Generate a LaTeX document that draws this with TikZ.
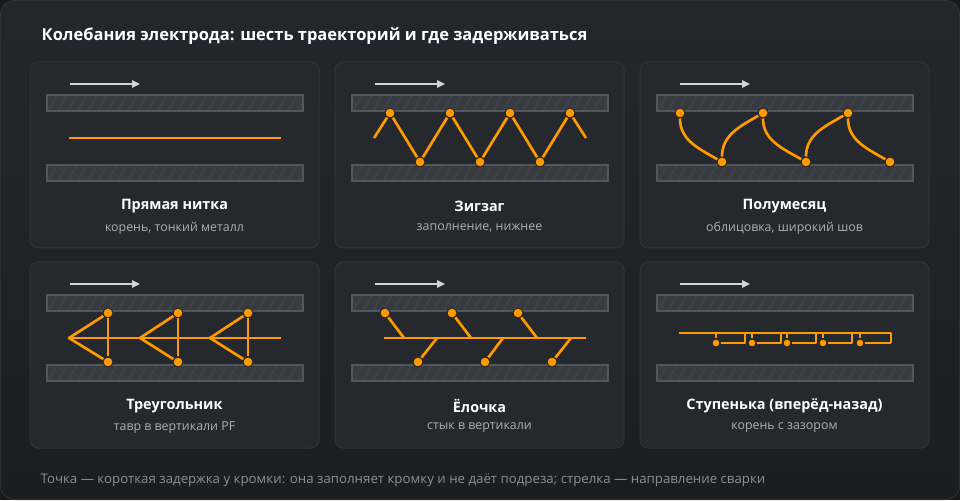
\documentclass[tikz,border=0pt]{standalone}
\usepackage{fontspec}
\setmainfont{Open Sans}
\usetikzlibrary{arrows.meta}

\definecolor{outside}{HTML}{16181B}
\definecolor{bgtop}{HTML}{23272D}
\definecolor{bgbot}{HTML}{1C1D21}
\definecolor{cardedge}{HTML}{2C2F35}
\definecolor{panelfill}{HTML}{25292D}
\definecolor{paneledge}{HTML}{30343A}
\definecolor{barfill}{HTML}{383C41}
\definecolor{baredge}{HTML}{52575D}
\definecolor{hatchline}{HTML}{464A50}
\definecolor{weld}{HTML}{FF9A00}
\definecolor{arrowgrey}{HTML}{D2D5D9}
\definecolor{subgrey}{HTML}{A9B0B8}
\definecolor{notegrey}{HTML}{8A9098}

\tikzset{
  panelbox/.style={fill=panelfill, draw=paneledge, line width=0.75pt, rounded corners=6pt},
  bar/.style={draw=baredge, line width=0.9pt},
  weldline/.style={draw=weld, line width=2pt, line join=round},
  dot/.style={circle, fill=weld, draw=black!85, line width=0.75pt, inner sep=0pt, minimum size=7.5pt},
  smalldot/.style={dot, minimum size=6pt},
  dir/.style={draw=arrowgrey, line width=1.5pt, -{Triangle[length=6pt,width=5.5pt]}},
  ptitle/.style={font=\bfseries\fontsize{10.8}{13}\selectfont, text=white},
  psub/.style={font=\fontsize{9.3}{11}\selectfont, text=subgrey},
}

\begin{document}
\begin{tikzpicture}[x=0.75pt, y=0.75pt]
  \useasboundingbox (0,0) rectangle (960,500);
  \fill[outside] (0,0) rectangle (960,500);
  \shade[top color=bgtop, bottom color=bgbot, rounded corners=10pt] (0.5,0.5) rectangle (959.5,499.5);
  \draw[cardedge, line width=0.75pt, rounded corners=10pt] (0.5,0.5) rectangle (959.5,499.5);

  \node[anchor=west, font=\bfseries\fontsize{12.35}{15}\selectfont, text=white] (title) at (37,464)
    {Колебания электрода: шесть траекторий и где задерживаться};

  % panels, direction arrows and plates
  \foreach \px/\py/\id in {30/438/a, 335/438/b, 640/438/c, 30/238/d, 335/238/e, 640/238/f} {
    \begin{scope}[shift={(\px,\py)}]
      \draw[panelbox] (0,0) rectangle (289,-186);
      \coordinate (\id-s) at (40,-22);
      \coordinate (\id-e) at (110,-22);
      \draw[dir] (\id-s) -- (\id-e);
      \foreach \top in {33,103} {
        \fill[barfill] (17,-\top) rectangle (273,-\top-16);
        \begin{scope}
          \clip (17,-\top) rectangle (273,-\top-16);
          \foreach \h in {0,10,...,270}
            \draw[hatchline, line width=0.5pt] (17+\h-9,-\top-16) -- (17+\h,-\top);
        \end{scope}
        \draw[bar] (17,-\top) rectangle (273,-\top-16);
      }
    \end{scope}
  }

  % straight line
  \begin{scope}[shift={(30,438)}]
    \coordinate (a1) at (39,-76);
    \coordinate (a2) at (251,-76);
    \draw[weldline] (a1) -- (a2);
    \node[ptitle] (a-title) at (144.5,-144) {Прямая нитка};
    \node[psub] (a-sub) at (144.5,-166) {корень, тонкий металл};
  \end{scope}

  % zigzag
  \begin{scope}[shift={(335,438)}]
    \coordinate (b0) at (39,-76);
    \node[dot] (b1) at (55,-51) {};
    \node[dot] (b2) at (85,-100) {};
    \node[dot] (b3) at (115,-51) {};
    \node[dot] (b4) at (145,-100) {};
    \node[dot] (b5) at (175,-51) {};
    \node[dot] (b6) at (205,-100) {};
    \node[dot] (b7) at (235,-51) {};
    \coordinate (b8) at (251,-76);
    \draw[weldline] (b0) -- (b1);
    \draw[weldline] (b1) -- (b2);
    \draw[weldline] (b2) -- (b3);
    \draw[weldline] (b3) -- (b4);
    \draw[weldline] (b4) -- (b5);
    \draw[weldline] (b5) -- (b6);
    \draw[weldline] (b6) -- (b7);
    \draw[weldline] (b7) -- (b8);
    \node[ptitle] (b-title) at (144.5,-144) {Зигзаг};
    \node[psub] (b-sub) at (144.5,-166) {заполнение, нижнее};
  \end{scope}

  % crescent
  \begin{scope}[shift={(640,438)}]
    \node[dot] (c1) at (40,-51) {};
    \node[dot] (c2) at (82,-100) {};
    \node[dot] (c3) at (123,-51) {};
    \node[dot] (c4) at (166,-100) {};
    \node[dot] (c5) at (208,-51) {};
    \node[dot] (c6) at (250,-100) {};
    \draw[weldline] (c1) to[out=-90,in=150] (c2);
    \draw[weldline] (c2) to[out=90,in=-150] (c3);
    \draw[weldline] (c3) to[out=-90,in=150] (c4);
    \draw[weldline] (c4) to[out=90,in=-150] (c5);
    \draw[weldline] (c5) to[out=-90,in=150] (c6);
    \node[ptitle] (c-title) at (144.5,-144) {Полумесяц};
    \node[psub] (c-sub) at (144.5,-166) {облицовка, широкий шов};
  \end{scope}

  % triangle
  \begin{scope}[shift={(30,238)}]
    \coordinate (d0) at (39,-76);
    \coordinate (d9) at (251,-76);
    \draw[weldline] (d0) -- (d9);
    \foreach \i/\ax/\dx in {1/39/78, 2/110/148, 3/180/218} {
      \coordinate (d-p\i) at (\ax,-76);
      \node[dot] (d-t\i) at (\dx,-51) {};
      \node[dot] (d-b\i) at (\dx,-100) {};
      \draw[weldline] (d-t\i) -- (d-p\i) -- (d-b\i);
      \draw[weldline] (d-t\i) -- (d-b\i);
    }
    \node[ptitle] (d-title) at (144.5,-144) {Треугольник};
    \node[psub] (d-sub) at (144.5,-166) {тавр в вертикали PF};
  \end{scope}

  % herringbone
  \begin{scope}[shift={(335,238)}]
    \coordinate (e0) at (49,-76);
    \coordinate (e9) at (251,-76);
    \draw[weldline] (e0) -- (e9);
    \foreach \i/\tx/\sx in {1/50/69, 2/117/136, 3/183/202} {
      \node[dot] (e-t\i) at (\tx,-51) {};
      \coordinate (e-ts\i) at (\sx,-76);
      \draw[weldline] (e-t\i) -- (e-ts\i);
    }
    \foreach \i/\bx/\sx in {1/83/102, 2/150/168, 3/217/236} {
      \node[dot] (e-b\i) at (\bx,-100) {};
      \coordinate (e-bs\i) at (\sx,-76);
      \draw[weldline] (e-b\i) -- (e-bs\i);
    }
    \node[ptitle] (e-title) at (144.5,-144) {Ёлочка};
    \node[psub] (e-sub) at (144.5,-166) {стык в вертикали};
  \end{scope}

  % step forward-back
  \begin{scope}[shift={(640,238)}]
    \coordinate (f0) at (39,-71);
    \coordinate (f9) at (251,-71);
    \coordinate (f8) at (251,-81);
    \draw[weldline] (f0) -- (f9) -- (f8);
    \foreach \i/\x in {1/76, 2/112, 3/147, 4/183, 5/220} {
      \node[smalldot] (f-d\i) at (\x,-81) {};
      \coordinate (f-u\i) at (\x,-71);
      \draw[weldline] (f-u\i) -- (f-d\i);
    }
    \foreach \i/\x in {1/76, 2/112, 3/147, 4/183} {
      \coordinate (f-k\i) at (\x+29,-71);
      \draw[weldline] (f-d\i) -| (f-k\i);
    }
    \draw[weldline] (f-d5) -- (f8);
    \node[ptitle] (f-title) at (144.5,-144) {Ступенька (вперёд-назад)};
    \node[psub] (f-sub) at (144.5,-166) {корень с зазором};
  \end{scope}

  \node[anchor=west, font=\fontsize{9.95}{12}\selectfont, text=notegrey] (note) at (36,20)
    {Точка — короткая задержка у кромки: она заполняет кромку и не даёт подреза; стрелка — направление сварки};
\end{tikzpicture}
\end{document}
